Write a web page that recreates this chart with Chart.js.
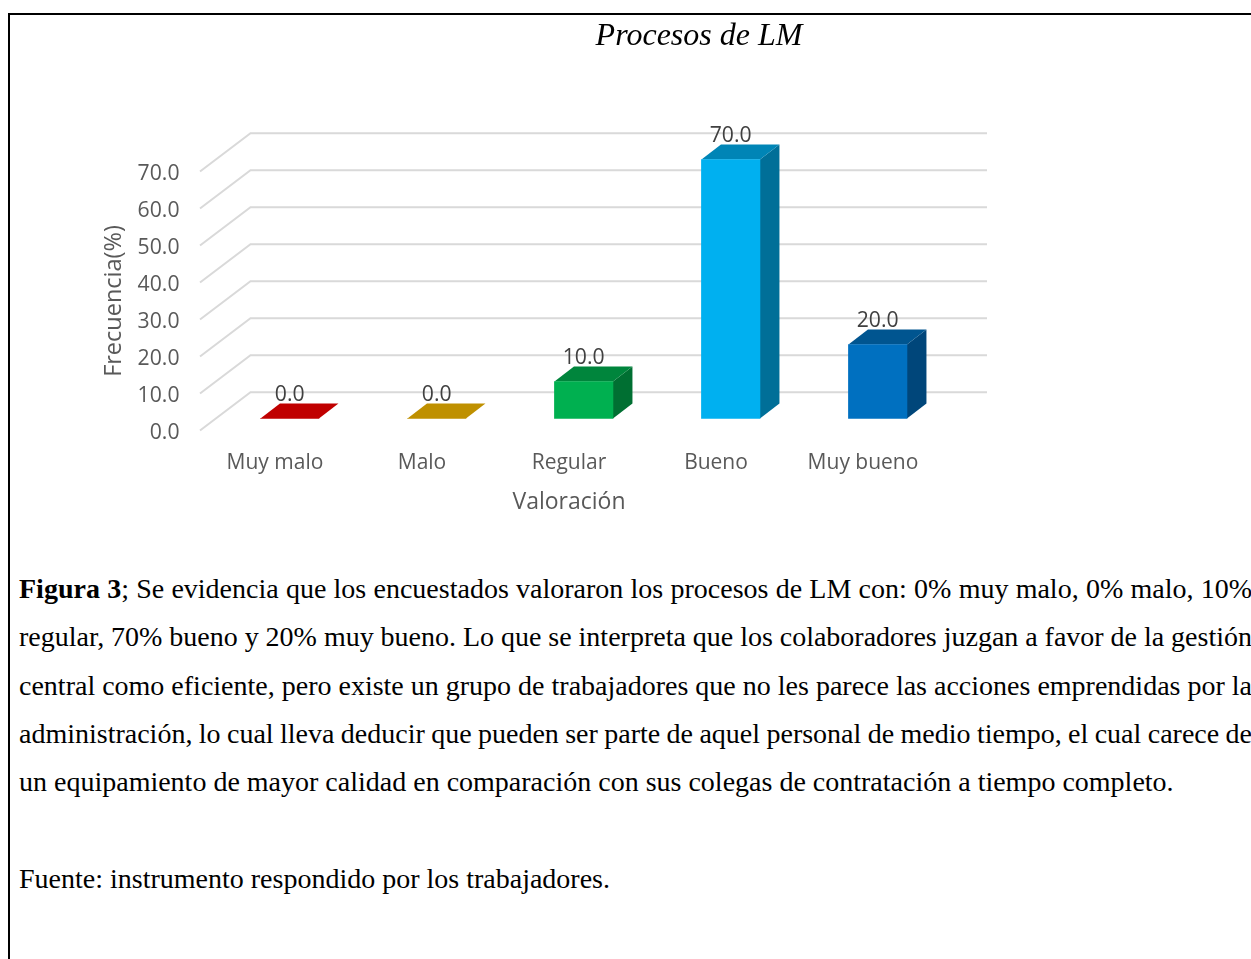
<!DOCTYPE html>
<html lang="es">
<head>
<meta charset="utf-8">
<title>Procesos de LM</title>
<script src="https://cdn.jsdelivr.net/npm/chart.js@4"></script>
<style>
  html, body { margin: 0; padding: 0; background: #fff; overflow: hidden; width: 1251px; height: 959px; }
  #frame { position: absolute; left: 8px; top: 13px; width: 1400px; height: 1100px; border: 2px solid #000; box-sizing: border-box; }
  #chart { position: absolute; left: 0; top: 0; }
  .line {
    position: absolute; left: 19px; white-space: nowrap; color: #000;
    font: 28px/32px "Liberation Serif", serif;
  }
</style>
</head>
<body>
<div id="frame"></div>
<canvas id="chart" width="1251" height="540"></canvas>
<div class="line just" style="top:573px"><b>Figura 3</b>; Se evidencia que los encuestados valoraron los procesos de LM con: 0% muy malo, 0% malo, 10%</div>
<div class="line just" style="top:621px">regular, 70% bueno y 20% muy bueno. Lo que se interpreta que los colaboradores juzgan a favor de la gestión</div>
<div class="line just" style="top:670px">central como eficiente, pero existe un grupo de trabajadores que no les parece las acciones emprendidas por la</div>
<div class="line just" style="top:718px">administración, lo cual lleva deducir que pueden ser parte de aquel personal de medio tiempo, el cual carece de</div>
<div class="line" style="top:766px">un equipamiento de mayor calidad en comparación con sus colegas de contratación a tiempo completo.</div>
<div class="line" style="top:863px">Fuente: instrumento respondido por los trabajadores.</div>
<script>
const chartTitle = 'Procesos de LM';
const categories = ['Muy malo', 'Malo', 'Regular', 'Bueno', 'Muy bueno'];
const percentages = [0.0, 0.0, 10.0, 70.0, 20.0];
const frontColors = ['#c00000', '#bf9000', '#00b050', '#00b0f0', '#0070c0'];
const topColors = ['#c00000', '#bf9000', '#00853c', '#0085b6', '#005590'];
const sideColors = ['#900000', '#8f6c00', '#006f32', '#006f98', '#00467a'];
const xAxisTitle = 'Valoración';
const yAxisTitle = 'Frecuencia(%)';

const UI_FONT = '"Open Sans", sans-serif';
const WALL_DX = 50, WALL_DY = 38.2;   // depth of the floor, from the axis plane to the back wall
const BAR_DX = 19.5, BAR_DY = 15;     // depth of each prism
const AREA = { left: 201.5, right: 936.5, top: 171.5, bottom: 430.5 };
const CANVAS_H = 540;
const PARAGRAPH_WIDTH = 1233;

// Justifies each full line of the caption by adjusting its word spacing.
document.querySelectorAll('.just').forEach(el => {
  const gaps = el.textContent.trim().split(/\s+/).length - 1;
  el.style.wordSpacing = (PARAGRAPH_WIDTH - el.getBoundingClientRect().width) / gaps + 'px';
});

function poly(ctx, color, pts) {
  ctx.fillStyle = color;
  ctx.beginPath();
  pts.forEach((p, i) => i ? ctx.lineTo(p[0], p[1]) : ctx.moveTo(p[0], p[1]));
  ctx.closePath();
  ctx.fill();
}

// Shifts the title box so it is centred over the plot rather than the page.
const titleShift = {
  id: 'titleShift',
  afterLayout(chart) { chart.titleBlock.left = 147; chart.titleBlock.right = 1251; }
};

// Floor and back-wall gridlines, taken from the visible value axis.
const perspectiveGrid = {
  id: 'perspectiveGrid',
  beforeDatasetsDraw(chart) {
    const { ctx, chartArea: a, scales: { y } } = chart;
    ctx.save();
    ctx.strokeStyle = '#d9d9d9';
    ctx.lineWidth = 2;
    y.ticks.forEach(t => {
      const py = y.getPixelForValue(t.value);
      ctx.beginPath();
      ctx.moveTo(a.left - 1.5, py);
      ctx.lineTo(a.left + WALL_DX - 1, py - WALL_DY);
      ctx.lineTo(a.right + WALL_DX + 0.5, py - WALL_DY);
      ctx.stroke();
    });
    ctx.restore();
  }
};

// Top and side faces of each bar, plus the value labels above them.
const prismFaces = {
  id: 'prismFaces',
  beforeDatasetDraw(chart) {
    const { ctx } = chart;
    ctx.save();
    chart.getDatasetMeta(0).data.forEach((bar, i) => {
      const l = bar.x - bar.width / 2, r = bar.x + bar.width / 2, t = bar.y, b = bar.base;
      if (b - t > 0.5) {
        poly(ctx, sideColors[i], [[r, t], [r + BAR_DX, t - BAR_DY], [r + BAR_DX, b - BAR_DY], [r, b]]);
      }
      poly(ctx, topColors[i], [[l, t], [l + BAR_DX, t - BAR_DY], [r + BAR_DX, t - BAR_DY], [r, t]]);
    });
    ctx.restore();
  },
  afterDatasetsDraw(chart) {
    const { ctx } = chart;
    ctx.save();
    ctx.fillStyle = '#404040';
    ctx.font = '21.2px ' + UI_FONT;
    ctx.textAlign = 'center';
    ctx.textBaseline = 'middle';
    chart.getDatasetMeta(0).data.forEach((bar, i) => {
      ctx.fillText(percentages[i].toFixed(1), bar.x, bar.y - 24);
    });
    ctx.restore();
  }
};

new Chart(document.getElementById('chart'), {
  type: 'bar',
  data: {
    labels: categories,
    datasets: [{
      label: yAxisTitle,
      data: percentages.map((v, i) => ({ x: i, y: v })),
      backgroundColor: frontColors,
      borderWidth: 0,
      barThickness: 58.5,
      clip: false,
      xAxisID: 'xBar',
      yAxisID: 'yBar'
    }]
  },
  options: {
    responsive: false,
    animation: false,
    layout: { padding: { left: 100, right: 1251 - AREA.right, top: 0, bottom: 0 } },
    plugins: {
      legend: { display: false },
      tooltip: { enabled: false },
      title: {
        display: true,
        text: chartTitle,
        color: '#000',
        font: { family: '"Liberation Serif", serif', size: 32, style: 'italic', weight: 'normal', lineHeight: 1.2 },
        padding: { top: 17.5, bottom: AREA.top - 17.5 - 38.4 }
      }
    },
    scales: {
      x: {
        type: 'category',
        offset: true,
        grid: { display: false },
        border: { display: false },
        afterFit(s) { s.height = CANVAS_H - AREA.bottom; },
        ticks: { color: '#595959', font: { family: UI_FONT, size: 21 }, padding: 12, autoSkip: false, maxRotation: 0 },
        title: { display: true, text: xAxisTitle, color: '#595959', font: { family: UI_FONT, size: 23 }, padding: { top: 0, bottom: 24 } }
      },
      y: {
        type: 'linear',
        min: 0,
        max: 70,
        grid: { display: false },
        border: { display: false },
        afterFit(s) { s.width = AREA.left - 100; },
        ticks: {
          stepSize: 10,
          padding: 14,
          labelOffset: 2,
          color: '#595959',
          font: { family: UI_FONT, size: 21.2 },
          callback: v => v.toFixed(1)
        },
        title: { display: true, text: yAxisTitle, color: '#595959', font: { family: UI_FONT, size: 23.5 }, padding: 0 }
      },
      // The bars stand on the middle of the floor, so they use their own shifted scales.
      xBar: { type: 'linear', axis: 'x', display: false, offset: false, min: -0.6, max: 4.4, grid: { offset: false } },
      yBar: { type: 'linear', axis: 'y', display: false, beginAtZero: false, min: -12 / 3.7, max: 70 - 12 / 3.7 }
    }
  },
  plugins: [titleShift, perspectiveGrid, prismFaces]
});
</script>
</body>
</html>
